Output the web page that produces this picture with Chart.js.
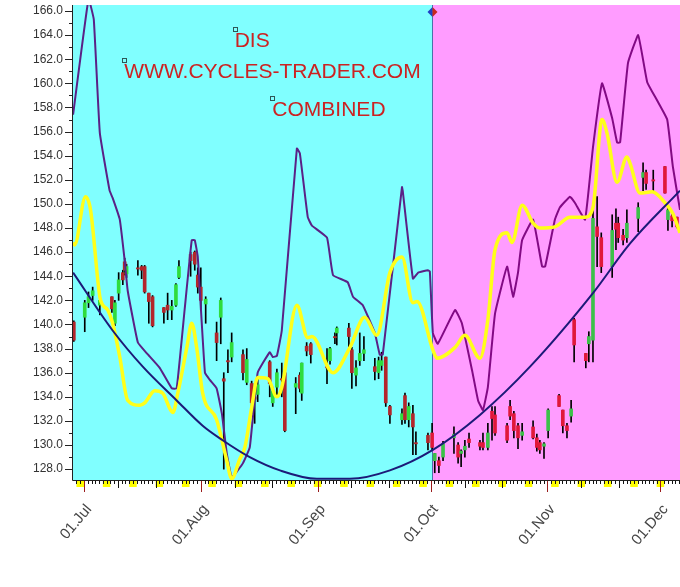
<!DOCTYPE html>
<html>
<head>
<meta charset="utf-8">
<script src="https://cdn.jsdelivr.net/npm/chart.js@4.4.1/dist/chart.umd.min.js"></script>
<style>
  html, body { margin: 0; padding: 0; background: #fff; }
  canvas { display: block; }
</style>
</head>
<body>
<canvas id="chart" width="680" height="587"></canvas>
<script>
'use strict';

// day 0 = 01 Jul
const START_YEAR = 2019;
const X_MIN = -2.92;
const X_MAX = 158.2;
const Y_MIN = 127.1;
const Y_MAX = 166.5;
const SPLIT_DAY = 92.4;

const monthDays = [0, 31, 62, 92, 123, 153];
const monthLabels = ['01.Jul', '01.Aug', '01.Sep', '01.Oct', '01.Nov', '01.Dec'];

const purpleDays = [-2.9, 1.2, 2.6, 4.2, 6.8, 7.6, 9.5, 10.8, 11.6, 14.3, 16.7, 20.1, 23.3, 24.6, 26.7, 28.6, 29.4, 30.2, 32.1, 33.4, 35.2, 36.6, 37.9, 39.2, 40.8, 42.2, 44.0, 46.1, 49.3, 50.1, 51.2, 52.5, 56.5, 57.3, 59.4, 60.5, 64.5, 66.1, 70.0, 71.4, 74.0, 77.2, 78.5, 79.3, 84.4, 84.6, 87.3, 88.7, 91.3, 91.8, 92.6, 93.9, 98.5, 100.3, 103.0, 104.6, 105.9, 107.2, 109.1, 112.3, 113.9, 115.2, 116.3, 119.2, 121.6, 122.4, 125.0, 126.3, 129.0, 130.3, 133.0, 135.1, 137.5, 140.2, 141.5, 142.3, 144.4, 147.1, 149.5, 152.1, 154.8, 156.3, 158.2];
const purpleValues = [157.4, 167.0, 165.3, 155.9, 151.1, 150.5, 148.7, 145.3, 142.8, 138.5, 137.6, 136.4, 134.7, 134.7, 141.2, 147.0, 147.0, 145.6, 136.0, 135.4, 134.7, 132.6, 129.3, 127.3, 127.9, 128.5, 129.8, 136.0, 137.7, 137.3, 137.4, 139.5, 154.6, 154.2, 148.9, 148.2, 147.2, 144.1, 143.5, 142.3, 141.6, 139.3, 137.5, 137.5, 151.4, 151.1, 143.8, 144.3, 144.5, 144.4, 139.3, 138.4, 141.2, 140.1, 136.2, 133.7, 132.9, 134.8, 140.9, 144.8, 142.3, 144.3, 147.0, 148.7, 144.8, 144.8, 148.7, 149.7, 150.6, 150.1, 148.7, 154.7, 160.0, 157.1, 155.1, 155.1, 161.7, 164.0, 160.1, 158.6, 157.0, 153.1, 149.5];

const yellowDays = [-2.9, -2.5, 0.4, 1.5, 2.0, 4.2, 5.0, 6.3, 7.6, 9.5, 11.6, 14.8, 16.1, 18.8, 20.9, 22.8, 23.6, 24.9, 27.3, 28.6, 29.9, 31.5, 35.2, 37.9, 39.2, 41.3, 42.7, 44.5, 46.1, 48.8, 51.2, 52.5, 56.5, 59.4, 60.5, 66.1, 70.6, 74.5, 77.7, 81.2, 84.4, 87.3, 88.4, 92.6, 93.7, 98.5, 101.1, 105.1, 107.2, 109.1, 112.3, 113.6, 116.3, 119.2, 121.0, 125.0, 129.0, 133.0, 135.1, 137.5, 138.8, 141.5, 144.1, 144.9, 147.6, 150.8, 154.2, 156.3, 158.2];
const yellowValues = [146.8, 146.6, 150.6, 149.9, 148.9, 142.3, 141.6, 141.2, 140.1, 137.3, 133.7, 133.3, 133.5, 134.5, 134.3, 133.0, 132.7, 134.3, 138.1, 140.1, 138.1, 134.3, 132.1, 128.7, 127.2, 128.8, 129.8, 133.1, 135.6, 135.5, 134.0, 134.8, 141.6, 138.9, 139.0, 136.0, 138.1, 140.6, 139.1, 144.3, 145.6, 141.8, 141.9, 137.9, 137.2, 138.1, 139.1, 137.2, 140.4, 146.2, 147.6, 146.8, 149.9, 148.4, 148.0, 148.1, 148.9, 148.9, 149.7, 157.0, 155.9, 151.8, 153.9, 153.4, 150.9, 151.0, 150.1, 149.2, 147.6];

const trendDays = [-2.9, 7.6, 15.6, 24.6, 31.5, 36.8, 44.0, 52.0, 61.8, 70.6, 81.2, 92.6, 105.1, 118.4, 135.1, 144.9, 158.2];
const trendValues = [144.3, 139.5, 136.5, 133.7, 131.6, 130.4, 129.0, 127.9, 127.2, 127.2, 127.9, 129.6, 132.5, 136.5, 142.6, 146.7, 151.1];

const barDays = [-2.7, 0.2, 1.2, 2.3, 4.2, 7.4, 8.2, 9.2, 10.3, 10.8, 11.3, 14.3, 15.3, 16.1, 17.2, 18.2, 21.2, 22.2, 23.3, 24.4, 25.2, 28.3, 29.4, 30.2, 31.0, 32.3, 35.2, 36.3, 37.1, 38.2, 39.2, 42.2, 43.2, 44.5, 45.3, 46.1, 49.3, 50.1, 51.2, 52.5, 53.3, 56.2, 57.3, 57.8, 59.1, 60.2, 64.5, 65.3, 66.6, 67.1, 70.3, 71.1, 72.2, 73.2, 74.3, 77.2, 78.2, 79.0, 80.1, 81.2, 84.4, 85.2, 86.2, 87.3, 88.1, 91.3, 92.4, 93.1, 94.2, 95.3, 98.2, 99.3, 100.1, 101.1, 102.2, 105.1, 105.9, 107.2, 108.3, 109.1, 112.3, 113.1, 114.1, 115.2, 116.3, 119.2, 120.2, 121.0, 122.1, 123.2, 126.1, 127.1, 128.2, 129.3, 130.1, 133.2, 134.0, 135.1, 136.2, 137.3, 140.2, 141.2, 141.8, 143.1, 144.1, 147.1, 148.4, 149.2, 151.1, 154.2, 155.0, 156.1, 157.4];
const barOpen = [140.2, 140.6, 141.8, 142.4, 141.6, 142.3, 140.1, 142.6, 144.3, 145.2, 144.2, 144.7, 144.8, 144.8, 142.6, 142.3, 141.4, 141.6, 141.2, 141.6, 143.9, 145.8, 146.0, 144.1, 143.1, 141.7, 139.3, 140.6, 135.5, 137.0, 137.3, 137.5, 135.2, 135.1, 134.0, 134.2, 136.9, 133.5, 134.8, 135.5, 136.0, 134.8, 135.8, 134.3, 138.2, 138.4, 136.5, 137.0, 139.0, 139.3, 139.7, 137.9, 135.8, 137.0, 137.6, 136.5, 136.0, 136.6, 137.3, 133.2, 132.1, 134.1, 132.1, 132.6, 130.2, 130.8, 131.0, 128.7, 128.7, 129.0, 130.6, 130.0, 129.3, 129.6, 130.5, 130.2, 130.2, 129.8, 132.8, 132.5, 131.6, 133.2, 132.6, 131.6, 130.8, 131.5, 130.6, 130.2, 129.9, 131.2, 134.1, 132.9, 131.6, 132.4, 140.4, 137.6, 138.4, 138.7, 148.1, 147.2, 144.8, 148.4, 148.4, 147.4, 147.2, 148.8, 152.2, 152.6, 152.0, 153.1, 148.7, 149.0, 148.9];
const barHigh = [140.3, 142.0, 142.7, 143.1, 142.3, 142.3, 142.0, 144.3, 144.5, 145.5, 145.0, 145.3, 144.9, 144.9, 142.6, 142.4, 141.4, 142.6, 142.0, 143.4, 145.3, 146.0, 146.1, 144.7, 144.7, 142.3, 140.2, 142.2, 136.0, 137.9, 139.3, 137.9, 138.0, 135.3, 135.1, 135.5, 137.0, 134.8, 136.3, 136.8, 136.5, 135.6, 136.0, 136.8, 138.5, 138.5, 138.0, 138.1, 139.3, 139.8, 140.1, 138.1, 137.0, 139.3, 139.0, 137.2, 137.3, 137.7, 137.3, 133.3, 133.0, 134.3, 133.5, 133.3, 131.1, 131.0, 131.8, 129.3, 129.0, 130.3, 131.5, 130.2, 129.6, 130.4, 131.0, 130.4, 131.0, 131.8, 133.2, 133.2, 131.8, 133.7, 132.8, 131.8, 131.8, 132.0, 130.9, 130.4, 130.2, 133.0, 134.2, 132.9, 131.8, 133.7, 140.5, 137.6, 139.4, 149.9, 150.6, 147.6, 149.1, 149.6, 148.9, 147.9, 149.5, 150.1, 153.4, 152.8, 152.8, 153.1, 149.7, 149.2, 148.9];
const barLow = [138.6, 139.4, 141.4, 142.0, 140.8, 141.0, 139.9, 142.0, 143.3, 144.1, 143.9, 144.1, 143.8, 142.6, 140.1, 139.8, 140.1, 140.4, 140.4, 141.5, 143.8, 144.0, 144.5, 142.6, 141.2, 140.1, 137.0, 138.4, 128.0, 136.0, 136.9, 135.4, 135.0, 132.6, 131.8, 133.6, 134.0, 133.2, 134.0, 134.0, 131.1, 132.6, 134.4, 133.7, 137.4, 136.8, 135.1, 136.7, 138.4, 138.3, 138.1, 134.7, 134.9, 136.6, 137.0, 135.4, 135.5, 136.2, 133.2, 131.8, 131.7, 131.8, 131.5, 129.2, 129.2, 129.6, 129.6, 127.7, 127.7, 128.7, 129.3, 128.5, 128.2, 129.0, 129.8, 129.6, 129.6, 129.6, 130.4, 130.8, 130.2, 132.1, 130.6, 129.7, 130.4, 130.5, 129.5, 129.3, 128.9, 130.6, 133.2, 131.0, 130.6, 131.9, 136.9, 136.4, 136.9, 136.9, 144.8, 144.3, 143.9, 146.2, 146.8, 146.6, 146.8, 147.7, 151.1, 151.2, 151.0, 150.9, 147.8, 148.1, 148.0];
const barClose = [138.7, 141.8, 142.3, 142.8, 142.0, 141.3, 141.8, 143.7, 143.7, 144.5, 144.8, 144.6, 144.5, 142.7, 141.9, 139.9, 141.0, 141.2, 141.5, 143.3, 144.8, 145.3, 145.0, 143.1, 142.0, 142.1, 138.5, 142.0, 135.3, 136.9, 138.5, 136.0, 137.1, 133.5, 133.8, 135.0, 135.1, 134.5, 136.0, 135.4, 131.2, 135.1, 134.7, 136.8, 137.8, 137.5, 136.4, 138.0, 138.9, 139.7, 139.0, 136.0, 136.4, 137.6, 137.9, 136.1, 137.0, 137.0, 133.5, 132.5, 132.6, 132.1, 133.2, 131.5, 130.1, 130.2, 129.8, 129.3, 128.3, 130.1, 130.9, 129.0, 129.5, 129.9, 130.2, 129.9, 129.8, 131.0, 132.2, 131.0, 130.4, 132.4, 131.2, 130.6, 131.1, 130.6, 129.8, 129.6, 130.1, 132.9, 133.2, 131.6, 131.2, 133.0, 138.3, 137.0, 139.0, 148.8, 147.3, 144.8, 147.8, 147.9, 147.2, 147.0, 148.4, 149.7, 152.6, 151.7, 151.9, 150.9, 149.5, 148.6, 148.1];

const noteTexts = ['DIS', 'WWW.CYCLES-TRADER.COM', 'COMBINED'];
const noteDays = [40.0, 10.7, 50.0];
const noteValues = [164.5, 161.9, 158.75];

const CYAN = '#80ffff';
const PINK = '#ff9cff';
const FONT = '"Liberation Sans", Arial, sans-serif';

const dayDate = d => new Date(START_YEAR, 6, 1 + d);

const decorations = {
  id: 'decorations',
  beforeDraw(chart) {
    const { ctx, chartArea: a, scales: { x } } = chart;
    const split = Math.round(x.getPixelForValue(SPLIT_DAY));
    ctx.save();
    ctx.fillStyle = '#ffffff';
    ctx.fillRect(0, 0, chart.width, chart.height);
    ctx.fillStyle = CYAN;
    ctx.fillRect(a.left, a.top, split - a.left, a.bottom - a.top);
    ctx.fillStyle = PINK;
    ctx.fillRect(split, a.top, a.right - split, a.bottom - a.top);
    ctx.strokeStyle = '#4d6fa8';
    ctx.lineWidth = 1;
    ctx.beginPath();
    ctx.moveTo(split + 0.5, a.top);
    ctx.lineTo(split + 0.5, a.bottom);
    ctx.stroke();
    ctx.restore();
  },
  afterDraw(chart) {
    const { ctx, chartArea: a, scales: { x, y } } = chart;
    ctx.save();

    // weekend marks under the time axis
    ctx.fillStyle = '#ffff00';
    for (let d = Math.floor(X_MIN) - 2; d <= Math.ceil(X_MAX); d++) {
      if (dayDate(d).getDay() !== 6) continue;
      const x0 = Math.max(a.left + 1, x.getPixelForValue(d));
      const x1 = Math.min(a.right, x.getPixelForValue(d + 2));
      if (x1 > x0) ctx.fillRect(x0, a.bottom + 1, x1 - x0, 6);
    }

    // day ticks
    ctx.lineWidth = 1;
    for (let d = Math.ceil(X_MIN); d <= Math.floor(X_MAX); d++) {
      const dom = dayDate(d).getDate();
      const len = dom === 1 ? 12 : (dom === 10 || dom === 20) ? 8 : 4;
      const px = Math.round(x.getPixelForValue(d)) + 0.5;
      ctx.strokeStyle = dom === 1 ? '#9a1c1c' : '#111111';
      ctx.beginPath();
      ctx.moveTo(px, a.bottom);
      ctx.lineTo(px, a.bottom + len);
      ctx.stroke();
    }

    // value ticks
    ctx.strokeStyle = '#222222';
    for (let v = Math.ceil(Y_MIN); v <= Math.floor(Y_MAX); v++) {
      const len = v % 2 === 0 ? 8 : 4;
      const py = Math.round(y.getPixelForValue(v)) + 0.5;
      ctx.beginPath();
      ctx.moveTo(a.left - len, py);
      ctx.lineTo(a.left, py);
      ctx.stroke();
    }

    // axis lines
    ctx.strokeStyle = '#222222';
    ctx.beginPath();
    ctx.moveTo(a.left - 0.5, a.top);
    ctx.lineTo(a.left - 0.5, a.bottom + 0.5);
    ctx.lineTo(a.right, a.bottom + 0.5);
    ctx.stroke();

    // notes
    ctx.font = `21px ${FONT}`;
    ctx.textAlign = 'left';
    ctx.textBaseline = 'alphabetic';
    noteTexts.forEach((t, i) => {
      const nx = x.getPixelForValue(noteDays[i]);
      const ny = y.getPixelForValue(noteValues[i]);
      ctx.strokeStyle = '#2f5656';
      ctx.strokeRect(Math.round(nx) - 1.5, Math.round(ny) - 1.5, 4, 4);
      ctx.fillStyle = '#cc2222';
      ctx.fillText(t, nx, ny + 18);
    });

    // marker on the split line
    const sx = Math.round(x.getPixelForValue(SPLIT_DAY)) + 0.5;
    const sy = a.top + 7;
    ctx.fillStyle = '#1f3fc4';
    ctx.beginPath();
    ctx.moveTo(sx, sy - 5);
    ctx.lineTo(sx - 5, sy);
    ctx.lineTo(sx, sy + 5);
    ctx.closePath();
    ctx.fill();
    ctx.fillStyle = '#c8281e';
    ctx.beginPath();
    ctx.moveTo(sx, sy - 5);
    ctx.lineTo(sx + 5, sy);
    ctx.lineTo(sx, sy + 5);
    ctx.closePath();
    ctx.fill();

    ctx.restore();
  },
};

const points = (days, values) => days.map((d, i) => ({ x: d, y: values[i] }));

const wickData = barDays.map((d, i) => ({ x: d, y: [barLow[i], barHigh[i]] }));
const bodyData = barDays.map((d, i) => ({
  x: d,
  y: [Math.min(barOpen[i], barClose[i]), Math.max(barOpen[i], barClose[i])],
}));
const bodyColors = barDays.map((d, i) => {
  const up = barClose[i] >= barOpen[i];
  if (d < SPLIT_DAY) return up ? '#2fdc3c' : '#b3262b';
  return up ? '#3cc04a' : '#e0183a';
});

new Chart(document.getElementById('chart'), {
  type: 'line',
  data: {
    datasets: [
      {
        type: 'bar',
        data: wickData,
        backgroundColor: '#000000',
        barThickness: 1,
        grouped: false,
        borderWidth: 0,
        order: 6,
      },
      {
        type: 'bar',
        data: bodyData,
        backgroundColor: bodyColors,
        barThickness: 3,
        grouped: false,
        borderWidth: 0,
        minBarLength: 1,
        order: 5,
      },
      {
        data: points(purpleDays, purpleValues),
        borderColor: '#800080',
        segment: {
          borderColor: c => (c.p0.parsed.x < SPLIT_DAY ? '#5a2186' : '#820a84'),
        },
        borderWidth: 2,
        pointRadius: 0,
        tension: 0.1,
        order: 3,
      },
      {
        data: points(yellowDays, yellowValues),
        borderColor: '#ffff1a',
        borderWidth: 3.5,
        pointRadius: 0,
        cubicInterpolationMode: 'monotone',
        order: 2,
      },
      {
        data: points(trendDays, trendValues),
        borderColor: '#1c1a78',
        borderWidth: 2,
        pointRadius: 0,
        cubicInterpolationMode: 'monotone',
        order: 1,
      },
    ],
  },
  options: {
    responsive: false,
    animation: false,
    events: [],
    layout: { padding: { top: 5, left: 0, right: 0, bottom: 0 } },
    plugins: {
      legend: { display: false },
      tooltip: { enabled: false },
    },
    scales: {
      x: {
        type: 'linear',
        min: X_MIN,
        max: X_MAX,
        offset: false,
        grid: { display: false, drawTicks: false },
        border: { display: false },
        afterBuildTicks: scale => {
          scale.ticks = monthDays.map(v => ({ value: v }));
        },
        afterFit: scale => {
          scale.height = 107;
          scale.paddingLeft = 0;
          scale.paddingRight = 0;
        },
        ticks: {
          autoSkip: false,
          minRotation: 50,
          maxRotation: 50,
          padding: 21,
          labelOffset: 5,
          color: '#454545',
          font: { family: FONT, size: 15 },
          callback: v => {
            const i = monthDays.indexOf(v);
            return i >= 0 ? monthLabels[i] : '';
          },
        },
      },
      y: {
        type: 'linear',
        min: Y_MIN,
        max: Y_MAX,
        grid: { display: false, drawTicks: false },
        border: { display: false },
        afterBuildTicks: scale => {
          const ticks = [];
          for (let v = 128; v <= 166; v += 2) ticks.push({ value: v });
          scale.ticks = ticks;
        },
        afterFit: scale => {
          scale.width = 73;
          scale.paddingTop = 0;
          scale.paddingBottom = 0;
        },
        ticks: {
          padding: 10,
          color: '#333333',
          font: { family: FONT, size: 12 },
          callback: v => v.toFixed(1),
        },
      },
    },
  },
  plugins: [decorations],
});
</script>
</body>
</html>
